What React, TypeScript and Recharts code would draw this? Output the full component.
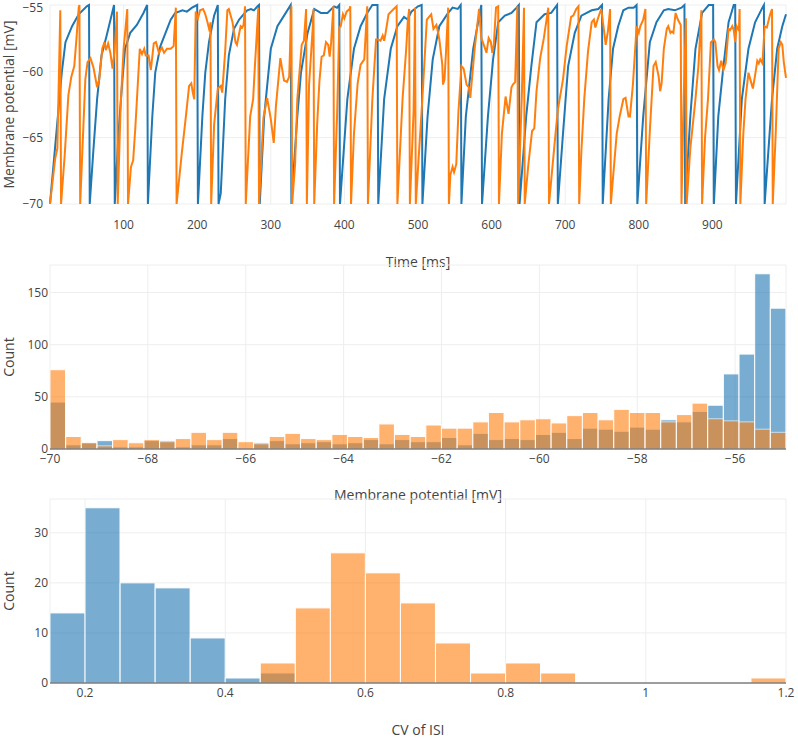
import React from 'react';
import { LineChart, Line, BarChart, Bar, XAxis, YAxis, CartesianGrid } from 'recharts';

const BLUE = '#1f77b4';
const ORANGE = '#ff7f0e';
const GRID = '#eee';
const INK = '#444';
const FONT = '"Open Sans", sans-serif';

// membrane potential traces: [time ms, potential mV]
const blueTrace = [
  [0, -70], [16, -60.1], [21, -57.8], [30, -56.6], [39, -55.7], [50, -55.1], [53, -55], [54, -70],
  [59, -65.9], [64, -62.1], [70, -58.8], [77, -57.3], [84, -55.7], [87, -55], [88, -70],
  [93, -64.7], [98, -60.9], [102, -58.3], [109, -57.1], [118, -56.5], [127, -55.6], [132, -55], [133, -70],
  [139, -63.4], [143, -60.1], [150, -58.1], [157, -57.1], [164, -56.1], [170, -55.6], [180, -55.4], [186, -55.5], [193, -55.2], [200, -55], [201, -70],
  [207, -63.4], [211, -60.1], [216, -57.8], [223, -55.8], [228, -55], [229, -70],
  [232, -69.2], [238, -62.1], [243, -58.8], [250, -56.8], [257, -56.1], [263, -55.7], [268, -55.4], [273, -55.3], [277, -55.4], [282, -55.1], [284, -55], [285, -70],
  [291, -63.4], [300, -58.3], [309, -56.6], [318, -55.8], [327, -55], [328, -70],
  [336, -63.4], [341, -60.1], [350, -57.1], [359, -55.3], [368, -55.6], [377, -55.6], [386, -55.1], [390, -55.2], [393, -55], [394, -70],
  [404, -62.1], [413, -58.3], [422, -56.6], [431, -55.6], [438, -55], [445, -55], [446, -70],
  [454, -62.1], [463, -58.3], [472, -56.6], [481, -55.9], [486, -56.1], [491, -55.5], [500, -55.1], [505, -55], [506, -70],
  [513, -63.4], [520, -59.1], [529, -56.6], [541, -55.6], [547, -55.2], [554, -55.3], [558, -55], [559, -70],
  [565, -63.4], [575, -58.3], [584, -55.6], [586, -55], [587, -70],
  [595, -63.4], [602, -59.1], [609, -56.3], [618, -55.8], [627, -55.6], [634, -55.2], [637, -55], [638, -70],
  [647, -63.4], [654, -59.6], [661, -56.3], [672, -55.7], [681, -55.6], [689, -55], [690, -70],
  [697, -64.7], [704, -59.6], [713, -57.1], [722, -55.8], [736, -55.4], [745, -55.3], [750, -55], [751, -70],
  [759, -62.1], [765, -58.3], [772, -56.6], [779, -55.4], [786, -55.2], [793, -55.2], [797, -55], [798, -70],
  [806, -63.4], [815, -57.8], [824, -56.3], [834, -55.4], [840, -55.3], [849, -55.4], [858, -55.2], [862, -55], [863, -70],
  [870, -63.4], [877, -58.3], [886, -55.6], [895, -55], [901, -55], [902, -70],
  [908, -63.4], [915, -59.6], [922, -56.3], [929, -55], [931, -55], [932, -70],
  [940, -62.1], [949, -58.3], [958, -56.3], [968, -55.2], [970, -55], [971, -70],
  [981, -62.1], [988, -58.3], [995, -56.6], [1000, -55.7],
];

const orangeTrace = [
  [0, -70], [7, -66.6], [10, -65.8], [14, -55.4], [15, -70], [20, -66.3], [25, -61.8], [29, -60.4], [33, -59.6], [36, -57.5], [39, -55.2], [40, -55], [41, -70],
  [48, -60.6], [51, -59.3], [55, -59], [59, -59.7], [64, -61.2], [67, -60.6], [71, -58.3], [74, -57.8], [76, -58.4], [79, -57.9], [82, -58.6], [85, -59.8], [88, -58.3], [91, -55.5], [92, -70],
  [96, -62.6], [100, -58.3], [105, -55.3], [106, -70],
  [110, -67.2], [113, -66.7], [116, -64.2], [122, -58.3], [125, -58.7], [128, -58.3], [130, -58.8], [134, -58.8], [137, -59.9], [141, -57.9], [144, -57.8], [148, -58.6], [152, -58.2], [155, -58.6], [159, -58.3], [164, -58.3], [168, -58.1], [171, -55.2], [172, -70],
  [179, -66.2], [185, -63.2], [189, -61.1], [192, -60.9], [194, -61.6], [196, -62.1], [198, -55.5], [201, -56], [204, -55.4], [208, -55.3], [211, -55.7], [214, -56.3], [217, -57], [218, -56.3], [219, -70],
  [223, -64], [228, -61.3], [232, -61.1], [234, -61.6], [238, -58.5], [241, -55.4], [243, -55.3], [248, -56.3], [252, -57.8], [254, -58], [259, -56.6], [261, -56.7], [263, -56.5], [265, -55.1], [266, -70],
  [272, -63.4], [276, -62.1], [278, -60], [283, -55.2], [284, -70],
  [290, -63.5], [295, -62], [300, -63.6], [304, -65.4], [307, -62.6], [313, -59], [318, -60.7], [322, -60.8], [325, -60.4], [328, -55.1], [329, -70],
  [333, -67], [336, -62.1], [342, -58], [345, -57.7], [348, -55.3], [349, -70],
  [352, -61], [357, -56.7], [358, -55.3], [359, -70],
  [363, -64], [366, -60.8], [369, -58.9], [372, -58.8], [375, -57.8], [378, -58], [380, -58.9], [382, -57.8], [385, -55.1], [386, -70],
  [390, -63.4], [393, -56.7], [395, -56.6], [398, -55.7], [400, -56], [403, -55.5], [407, -55.3], [408, -55.1], [409, -70],
  [413, -64.7], [418, -60.9], [422, -59.5], [427, -59.1], [431, -55.1], [432, -70],
  [438, -62.1], [443, -57.6], [446, -57.6], [449, -57.7], [452, -57.3], [454, -57.7], [456, -57.1], [460, -55.7], [467, -55.3], [471, -55.1], [472, -70],
  [479, -62.1], [484, -58.3], [486, -56.3], [488, -55.3], [489, -70],
  [494, -63], [496, -55.2], [497, -70],
  [506, -62], [512, -56.1], [515, -55.9], [518, -55.7], [521, -56.8], [525, -56.5], [527, -57], [529, -57.6], [533, -59.5], [534, -61], [536, -60.6], [538, -58.6], [541, -55.2], [542, -70],
  [544, -67.8], [547, -67.2], [549, -67.6], [552, -67], [555, -63], [559, -59.6], [562, -59.8], [566, -61], [569, -61.2], [571, -62], [577, -58.3], [583, -55.3], [586, -57.5], [590, -58.1], [593, -58.6], [596, -57.5], [599, -57.8], [601, -58.6], [603, -58], [606, -55.2], [609, -55.1], [610, -70],
  [614, -64.7], [619, -61.9], [623, -63.2], [627, -61.2], [629, -61], [632, -60.8], [635, -55.1], [636, -70],
  [641, -62], [644, -55.2], [645, -70],
  [650, -67], [655, -64.5], [658, -64.3], [661, -61.5], [666, -59], [671, -57.5], [677, -55.2], [678, -70],
  [686, -65.2], [690, -62.9], [697, -60.6], [702, -58.1], [708, -55.9], [711, -55.8], [715, -55.3], [718, -55.1], [719, -70],
  [722, -66], [726, -62], [731, -58.5], [736, -56.3], [739, -56.1], [741, -56.7], [744, -56.1], [747, -55.6], [749, -55.3], [752, -56.6], [755, -58], [758, -57], [761, -55.3], [762, -70],
  [770, -64.7], [774, -63.4], [779, -62.1], [782, -62], [786, -63.4], [788, -63.4], [792, -61], [797, -56.6], [800, -57.1], [802, -56.6], [806, -56.1], [809, -55.3], [810, -70],
  [815, -64.5], [820, -59.6], [823, -59.3], [827, -60.4], [829, -61.5], [831, -60.9], [834, -58.3], [838, -56.8], [840, -56.6], [843, -57.1], [845, -57], [847, -57.1], [850, -55.6], [853, -56.1], [855, -56.3], [857, -56.5], [858, -70],
  [861, -62], [864, -56], [865, -70],
  [870, -65.8], [877, -62.1], [881, -59.6], [885, -55.4], [886, -70],
  [890, -65], [894, -62.1], [898, -57.8], [902, -57.6], [904, -57.8], [907, -59.6], [909, -59.9], [912, -59.2], [915, -59.9], [918, -59.4], [922, -56.8], [924, -56.9], [927, -56.6], [929, -56.9], [931, -57.8], [933, -56.6], [936, -56.9], [937, -55.3], [938, -70],
  [942, -64.7], [945, -62.1], [949, -60.1], [952, -60.7], [955, -61.3], [958, -60.3], [961, -59.2], [963, -59.4], [965, -59.1], [968, -59.4], [971, -56.6], [974, -56.7], [978, -55.8], [981, -55.3], [982, -70],
  [986, -64.7], [990, -58.3], [993, -57.8], [995, -58], [997, -59.3], [1000, -60.5],
];

const timeTicks = [100, 200, 300, 400, 500, 600, 700, 800, 900];
const traceTicks = [-70, -65, -60, -55];

// membrane potential histogram, 47 bins of 0.32 mV from -70 mV
const vBinStart = -70;
const vBinWidth = 0.32;
const vCountsBlue = [45, 4, 6, 8, 2, 2, 8, 8, 2, 4, 4, 10, 0, 6, 8, 5, 6, 7, 5, 6, 9, 5, 9, 7, 7, 11, 4, 15, 9, 10, 9, 14, 16, 10, 20, 19, 17, 21, 19, 28, 26, 36, 42, 72, 91, 168, 135];
const vCountsOrange = [76, 12, 6, 3, 9, 6, 9, 7, 10, 16, 9, 16, 7, 5, 12, 15, 10, 9, 14, 12, 11, 24, 14, 12, 23, 20, 20, 26, 35, 26, 28, 29, 25, 32, 35, 28, 38, 35, 35, 26, 33, 44, 29, 27, 26, 19, 16];
const vHistTicks = [-70, -68, -66, -64, -62, -60, -58, -56];
const vCountTicks = [0, 50, 100, 150];

// CV of ISI histogram, bins of 0.05 from 0.15
const cvBinStart = 0.15;
const cvBinWidth = 0.05;
const cvCountsBlue = [14, 35, 20, 19, 9, 1, 2, 0, 0, 0, 0, 0, 0, 0, 0, 0, 0, 0, 0, 0, 0];
const cvCountsOrange = [0, 0, 0, 0, 0, 0, 4, 15, 26, 22, 16, 8, 2, 4, 2, 0, 0, 0, 0, 0, 1];
const cvTicks = [0.2, 0.4, 0.6, 0.8, 1, 1.2];
const cvCountTicks = [0, 10, 20, 30];

const blueData = blueTrace.map(([t, v]) => ({ t, v }));
const orangeData = orangeTrace.map(([t, v]) => ({ t, v }));
const vHist = vCountsBlue.map((b, i) => ({
  x: vBinStart + vBinWidth * (i + 0.5),
  blue: b,
  orange: vCountsOrange[i],
}));
const cvHist = cvCountsBlue.map((b, i) => ({
  x: cvBinStart + cvBinWidth * (i + 0.5),
  blue: b,
  orange: cvCountsOrange[i],
}));

// layout
const W = 798;
const PLOT_L = 50;
const PLOT_R = 12;
const PLOT_W = W - PLOT_L - PLOT_R;
const vDomain = [vBinStart, vBinStart + vBinWidth * vCountsBlue.length];
const cvDomain = [cvBinStart, cvBinStart + cvBinWidth * cvCountsBlue.length];
const vBarSize = (PLOT_W / vCountsBlue.length) - 0.1;
const cvBarSize = (PLOT_W / cvCountsBlue.length) - 0.1;

const minus = (v: number) => String(v).replace('-', '\u2212');
const tickStyle = { fontSize: 12, fill: INK, fontFamily: FONT };

const xTitle = (text: string, y: number) => () => (
  <text x={PLOT_L + PLOT_W / 2} y={y} textAnchor="middle" fill={INK} fontSize={14} fontFamily={FONT}>
    {text}
  </text>
);

const yTitle = (text: string, cy: number) => () => (
  <text
    x={8}
    y={cy}
    transform={`rotate(-90 8 ${cy})`}
    textAnchor="middle"
    dominantBaseline="central"
    fill={INK}
    fontSize={14}
    fontFamily={FONT}
  >
    {text}
  </text>
);

const HistBar = (props: any) => {
  const { x, y, width, height, fill } = props;
  if (!height || height <= 0) return null;
  return <rect x={x} y={y} width={width} height={height} fill={fill} stroke="#fff" strokeWidth={1} opacity={0.6} />;
};

export default function App() {
  return (
    <div style={{ position: 'absolute', left: 0, top: 0, width: W, height: 741, background: '#fff', fontFamily: FONT }}>
      <div style={{ position: 'absolute', left: 0, top: 0 }}>
        <LineChart width={W} height={270} margin={{ top: 5, right: PLOT_R, bottom: 0, left: 0 }}>
          <CartesianGrid stroke={GRID} />
          <XAxis
            type="number"
            dataKey="t"
            domain={[0, 1000]}
            ticks={timeTicks}
            allowDuplicatedCategory={false}
            axisLine={false}
            tickLine={false}
            tickSize={0}
            tickMargin={16}
            height={66}
            tick={tickStyle}
            label={xTitle('Time [ms]', 267)}
          />
          <YAxis
            type="number"
            domain={[-70, -55]}
            ticks={traceTicks}
            width={PLOT_L}
            axisLine={false}
            tickLine={false}
            tickSize={0}
            tickMargin={7}
            tickFormatter={minus}
            tick={tickStyle}
            label={yTitle('Membrane potential [mV]', 104.5)}
          />
          <Line data={blueData} dataKey="v" type="linear" stroke={BLUE} strokeWidth={2} dot={false} isAnimationActive={false} />
          <Line data={orangeData} dataKey="v" type="linear" stroke={ORANGE} strokeWidth={2} dot={false} isAnimationActive={false} />
        </LineChart>
      </div>

      <div style={{ position: 'absolute', left: 0, top: 260 }}>
        <BarChart
          width={W}
          height={245}
          data={vHist}
          margin={{ top: 5, right: PLOT_R, bottom: 0, left: 0 }}
          barGap={-vBarSize}
          barCategoryGap={0}
        >
          <CartesianGrid stroke={GRID} />
          <XAxis
            type="number"
            dataKey="x"
            domain={vDomain}
            ticks={vHistTicks}
            axisLine={{ stroke: INK }}
            tickLine={false}
            tickSize={0}
            tickMargin={5}
            height={56}
            tickFormatter={minus}
            tick={tickStyle}
            label={xTitle('Membrane potential [mV]', 240)}
          />
          <YAxis
            type="number"
            domain={[0, 176.4]}
            ticks={vCountTicks}
            width={PLOT_L}
            axisLine={false}
            tickLine={false}
            tickSize={0}
            tickMargin={2}
            tick={tickStyle}
            label={yTitle('Count', 97)}
          />
          <Bar dataKey="blue" fill={BLUE} barSize={vBarSize} shape={HistBar} isAnimationActive={false} />
          <Bar dataKey="orange" fill={ORANGE} barSize={vBarSize} shape={HistBar} isAnimationActive={false} />
        </BarChart>
      </div>

      <div style={{ position: 'absolute', left: 0, top: 494 }}>
        <BarChart
          width={W}
          height={246}
          data={cvHist}
          margin={{ top: 5, right: PLOT_R, bottom: 0, left: 0 }}
          barGap={-cvBarSize}
          barCategoryGap={0}
        >
          <CartesianGrid stroke={GRID} />
          <XAxis
            type="number"
            dataKey="x"
            domain={cvDomain}
            ticks={cvTicks}
            axisLine={{ stroke: INK }}
            tickLine={false}
            tickSize={0}
            tickMargin={5}
            height={57}
            tick={tickStyle}
            label={xTitle('CV of ISI', 241)}
          />
          <YAxis
            type="number"
            domain={[0, 36.75]}
            ticks={cvCountTicks}
            width={PLOT_L}
            axisLine={false}
            tickLine={false}
            tickSize={0}
            tickMargin={2}
            tick={tickStyle}
            label={yTitle('Count', 97)}
          />
          <Bar dataKey="blue" fill={BLUE} barSize={cvBarSize} shape={HistBar} isAnimationActive={false} />
          <Bar dataKey="orange" fill={ORANGE} barSize={cvBarSize} shape={HistBar} isAnimationActive={false} />
        </BarChart>
      </div>
    </div>
  );
}
